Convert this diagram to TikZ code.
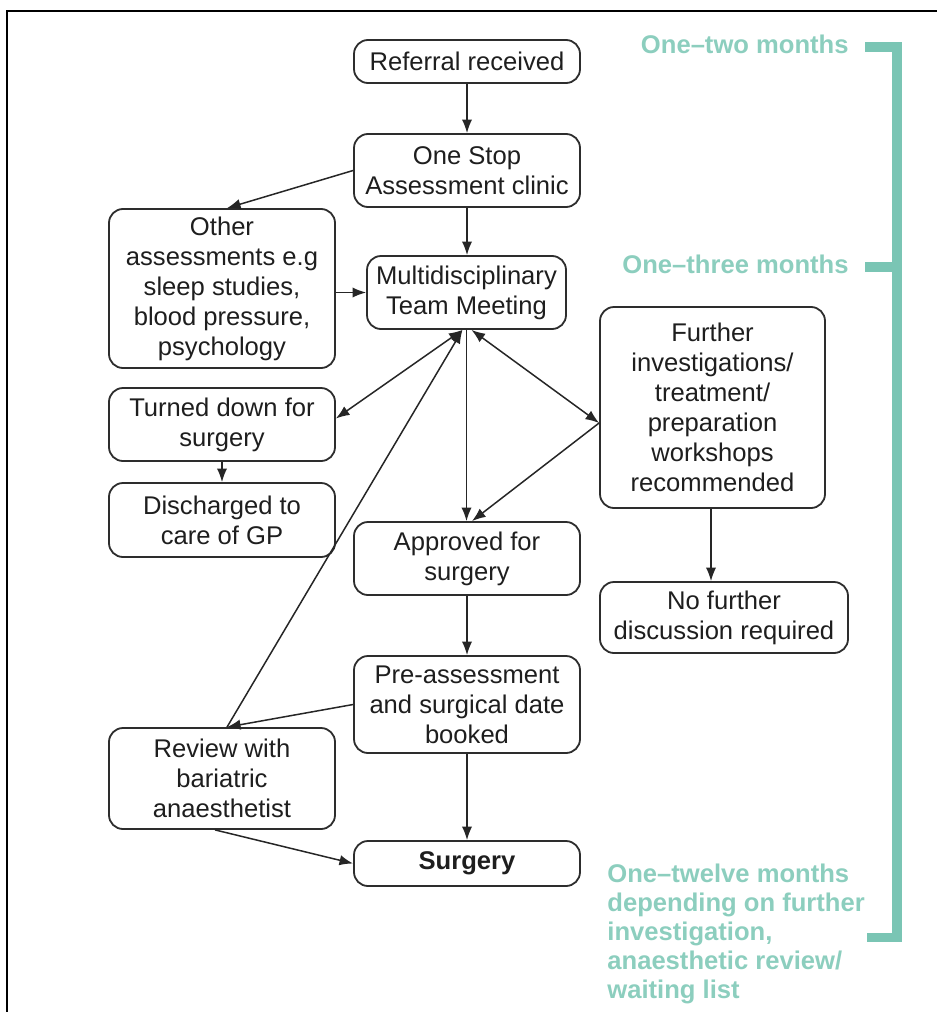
\documentclass[tikz,border=0pt]{standalone}
\usepackage{fontspec}
\setmainfont{Liberation Sans}
\usetikzlibrary{arrows.meta,calc}
\definecolor{boxline}{RGB}{45,45,45}
\definecolor{boxtext}{RGB}{30,30,30}
\definecolor{teal}{RGB}{122,197,180}
\definecolor{tealtext}{RGB}{140,206,190}
\tikzset{
  stepbox/.style={draw=boxline, line width=0.9pt, rounded corners=7pt,
    align=center, inner sep=0pt, text=boxtext,
    font=\fontsize{12.8pt}{15pt}\selectfont},
  flow/.style={draw=black!85, line width=0.75pt,
    -{Latex[length=6.8pt,width=5.2pt]}},
  flowboth/.style={draw=black!85, line width=0.75pt,
    {Latex[length=6.8pt,width=5.2pt]}-{Latex[length=6.8pt,width=5.2pt]}},
  period/.style={text=tealtext, inner sep=0pt,
    font=\fontsize{12.8pt}{14.5pt}\selectfont\bfseries},
  bracket/.style={draw=teal, line width=4.6pt}
}
\begin{document}
\begin{tikzpicture}[x=0.5pt,y=-0.5pt]
\useasboundingbox (0,0) rectangle (937,1012);
% outer frame (open to the right and bottom)
\draw[line width=1.1pt] (7,1013) -- (7,11) -- (938,11);

% process steps
\node[stepbox, minimum width=113pt, minimum height=21.5pt] (ref) at (467,61.5) {Referral received};
\node[stepbox, minimum width=113pt, minimum height=36.5pt] (stop) at (467,170.5) {One Stop\\Assessment clinic};
\node[stepbox, minimum width=113pt, minimum height=79.5pt] (other) at (222,288.5) {Other\\assessments e.g\\sleep studies,\\blood pressure,\\psychology};
\node[stepbox, minimum width=99.5pt, minimum height=36.5pt] (mtm) at (466.5,292.5) {Multidisciplinary\\Team Meeting};
\node[stepbox, minimum width=112.5pt, minimum height=100.5pt] (further) at (712.5,407.5) {Further\\investigations/\\treatment/\\preparation\\workshops\\recommended};
\node[stepbox, minimum width=113pt, minimum height=36.5pt] (turned) at (222,424.5) {Turned down for\\surgery};
\node[stepbox, minimum width=113pt, minimum height=37pt] (disch) at (222,520) {Discharged to\\care of GP};
\node[stepbox, minimum width=113pt, minimum height=36.5pt] (approved) at (467,558.5) {Approved for\\surgery};
\node[stepbox, minimum width=124pt, minimum height=35.5pt] (nofurther) at (724,617.5) {No further\\discussion required};
\node[stepbox, minimum width=113pt, minimum height=48.5pt] (pre) at (467,704.5) {Pre-assessment\\and surgical date\\booked};
\node[stepbox, minimum width=113pt, minimum height=50.5pt] (review) at (222,778.5) {Review with\\bariatric\\anaesthetist};
\node[stepbox, minimum width=113pt, minimum height=22.5pt] (surgery) at (467,863.5) {\bfseries Surgery};

% junction points on box edges
\coordinate (mtmL) at ($(mtm.south)+(-4,0)$);
\coordinate (mtmR) at ($(mtm.south)+(5,0)$);
\coordinate (furW) at ($(further.west)+(0,15.5)$);
\coordinate (revN) at ($(review.north)+(5,0)$);

% connectors
\draw[flow] (ref) -- (stop);
\draw[flow] (stop.south) -- (stop.south |- mtm.north);
\draw[flow] (stop.west) -- ($(other.north)+(5,0)$);
\draw[flow] (other.east |- mtm.west) -- (mtm.west);
\draw[flowboth] (mtmL) -- ($(turned.east)+(0,-6)$);
\draw[flowboth] (mtmR) -- (furW);
\draw[flow] (mtm.south) -- (mtm.south |- approved.north);
\draw[flow] (furW) -- ($(approved.north)+(5,0)$);
\draw[flow] (turned) -- (disch);
\draw[flow] (further.south -| nofurther.north) ++(-13,0) coordinate (fs) -- (fs |- nofurther.north);
\draw[flow] (approved) -- (pre);
\draw[flow] (pre.west) -- (revN);
\draw[flow] (revN) -- (mtmL);
\draw[flow] (pre) -- (surgery);
\draw[flow] ($(review.south)+(-7,0)$) -- (surgery.west);

% time-scale bracket
\draw[bracket, line cap=butt, line join=miter] (865,47) -- (897,47) -- (897,937.5) -- (867,937.5);
\draw[bracket, line cap=butt] (865,267) -- (897,267);

\node[period, anchor=east] (t1) at (849,44) {One–two months};
\node[period, anchor=east] (t2) at (849,264) {One–three months};
\node[period, anchor=north west, align=left] (t3) at (607,864) {One–twelve months\\depending on further\\investigation,\\anaesthetic review/\\waiting list};
\end{tikzpicture}
\end{document}
